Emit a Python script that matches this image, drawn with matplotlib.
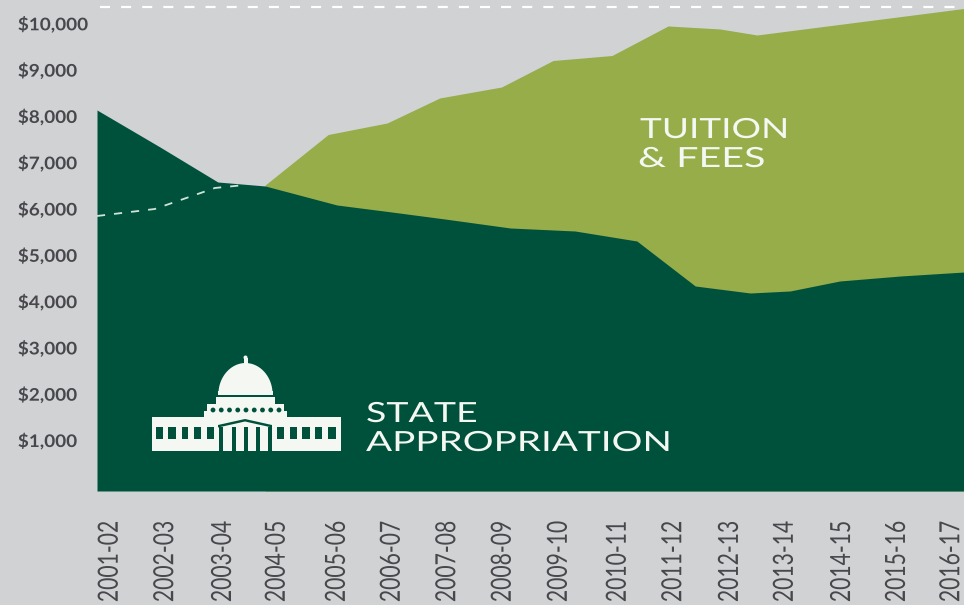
import numpy as np
import matplotlib
matplotlib.use("Agg")
import matplotlib.pyplot as plt
from matplotlib.patches import Rectangle, Polygon, Circle
from matplotlib.patheffects import AbstractPathEffect
from matplotlib.transforms import Affine2D

# the original picture is squeezed sideways, so text gets stretched to match
class Stretch(AbstractPathEffect):
    def __init__(self, sx):
        super().__init__()
        self.sx = sx

    def draw_path(self, renderer, gc, tpath, affine, rgbFace=None):
        renderer.draw_path(gc, tpath, Affine2D().scale(self.sx, 1) + affine, rgbFace)


years = ["2001-02", "2002-03", "2003-04", "2004-05", "2005-06", "2006-07", "2007-08", "2008-09",
         "2009-10", "2010-11", "2011-12", "2012-13", "2013-14", "2014-15", "2015-16", "2016-17"]
year_ticks = [0.22, 1.18, 2.18, 3.11, 4.15, 5.10, 6.06, 7.02, 7.99, 9.01, 9.97, 10.95, 11.90, 12.89, 13.84, 14.78]

# per student dollars
state_x = [0, 1.09, 2.09, 2.91, 4.15, 5.10, 6.02, 7.15, 8.27, 9.34, 10.35, 11.30, 11.99, 12.85, 13.90, 15]
state = [8127, 7328, 6572, 6486, 6076, 5924, 5773, 5579, 5514, 5298, 4326, 4175, 4218, 4434, 4542, 4628]

total_x = [2.91, 4.0, 5.02, 5.93, 7.0, 7.89, 8.91, 9.88, 10.78, 11.42, 15]
total = [6508, 7598, 7847, 8387, 8624, 9196, 9304, 9942, 9877, 9747, 10320]

# 2001-02 level carried forward, dashed over the dark area
dashed_x = [0, 1.0, 2.04, 2.56]
dashed = [5838, 5989, 6443, 6508]

top_line_x = [0.05, 15]
top_line = [10352, 10352]

money_ticks = [1000, 2000, 3000, 4000, 5000, 6000, 7000, 8000, 9000, 10000]
money_labels = ["$1,000", "$2,000", "$3,000", "$4,000", "$5,000", "$6,000", "$7,000", "$8,000", "$9,000", "$10,000"]

BG = "#d1d2d4"
DARK = "#00513b"
LIGHT = "#96ad4a"
TEXT = "#47474c"
WHITE = "#f4f7f2"

plt.rcParams["font.family"] = ["Lato", "DejaVu Sans"]

fig = plt.figure(figsize=(9.64, 6.05), dpi=100, facecolor=BG)
ax = fig.add_axes([97 / 964, (605 - 491) / 605, (964 - 97) / 964, 491 / 605], facecolor=BG)
ymin, ymax = -101.5, 10503
ax.set_xlim(0, 15)
ax.set_ylim(ymin, ymax)

ax.fill_between(total_x, total, ymin, color=LIGHT, lw=0)
ax.fill_between(state_x, state, ymin, color=DARK, lw=0)
ax.plot(dashed_x, dashed, color="#cfe4d8", lw=1.3, ls=(0, (4.5, 5)))
ax.plot(top_line_x, top_line, color="white", lw=1.6, ls=(0, (4.5, 5)))

for s in ax.spines.values():
    s.set_visible(False)

ax.set_xticks(year_ticks, labels=years, rotation=90, rotation_mode="anchor", ha="left", va="center",
              fontsize=20, fontweight="normal", color=TEXT)
ax.set_yticks(money_ticks, labels=money_labels, ha="left", va="center_baseline", fontsize=12.5,
              fontweight="bold", color=TEXT)
ax.tick_params(axis="x", length=0, pad=80)
ax.tick_params(axis="y", length=0, pad=57)
for lab in ax.get_xticklabels():
    lab.set_path_effects([Stretch(0.76)])
for lab in ax.get_yticklabels():
    lab.set_path_effects([Stretch(1.09)])

# overlay in pixel coords for the icon and the area names
ov = fig.add_axes([0, 0, 1, 1])
ov.set_xlim(0, 964)
ov.set_ylim(605, 0)
ov.axis("off")
ov.patch.set_visible(False)


def box(x0, x1, y0, y1, color):
    ov.add_patch(Rectangle((x0, y0), x1 - x0, y1 - y0, color=color, lw=0))


# capitol building
box(152, 341, 417, 451, WHITE)
for x0, x1 in [(156, 163), (168, 176), (182, 188), (194, 201), (207, 214),
               (277, 284), (290, 297), (302, 310), (315, 322), (328, 336)]:
    box(x0, x1, 427, 439, DARK)
for x0 in [219, 232, 244, 256, 268]:
    box(x0, x0 + 4, 427, 451, DARK)
ov.add_patch(Polygon([(218, 425), (245, 419), (272, 425), (272, 427.5), (245, 421.5), (218, 427.5)], color=DARK, lw=0))
box(204, 287, 411, 418, WHITE)
box(207, 284, 404, 412, WHITE)
for x0 in np.linspace(213, 279, 9):
    ov.add_patch(Circle((x0, 410), 2.4, color=DARK, lw=0))
box(216, 275, 396.5, 404, WHITE)
t = np.linspace(0, np.pi, 40)
ov.add_patch(Polygon(np.column_stack([245.5 + 27 * np.cos(t), 393 - 30 * np.sin(t) ** 1.05]), color=WHITE, lw=0))
box(218, 273, 391, 394.5, WHITE)
box(243.5, 247.5, 358, 365, WHITE)
ov.add_patch(Circle((245.5, 357.5), 2, color=WHITE, lw=0))

for x, y, s, sx in [(366, 422, "STATE", 1.35), (366, 451, "APPROPRIATION", 1.39),
                    (640, 138, "TUITION", 1.33), (638, 167, "& FEES", 1.42)]:
    ov.text(x, y, s, color=WHITE, fontsize=20, fontweight="normal", ha="left", va="baseline",
            path_effects=[Stretch(sx)])

fig.savefig("out.png", dpi=100, facecolor=BG)
